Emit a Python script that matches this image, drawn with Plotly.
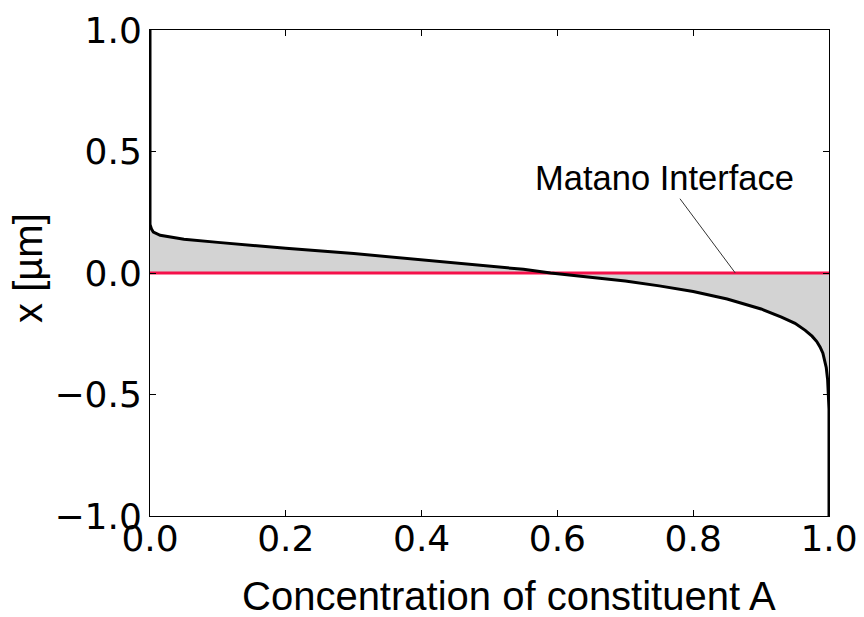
import plotly.graph_objects as go

# Data
conc = [0.0, 0.0, 0.002, 0.005, 0.015, 0.03, 0.05, 0.1, 0.15, 0.2, 0.3, 0.4, 0.45, 0.5, 0.55,
        0.59, 0.65, 0.7, 0.75, 0.8, 0.85, 0.9, 0.93, 0.95, 0.965, 0.975, 0.982, 0.987, 0.991,
        0.994, 0.996, 0.998, 0.999, 1.0, 1.0]
xpos = [1.0, 0.2, 0.182, 0.168, 0.155, 0.147, 0.139, 0.126, 0.113, 0.102, 0.08, 0.055, 0.042, 0.028, 0.015,
        0.0, -0.018, -0.033, -0.053, -0.076, -0.107, -0.148, -0.182, -0.207, -0.236, -0.26, -0.282, -0.305, -0.33,
        -0.36, -0.39, -0.44, -0.49, -0.56, -1.0]

matano_c = [0.0, 1.0]
matano_x = [0.0, 0.0]

xticks = [0.0, 0.2, 0.4, 0.6, 0.8, 1.0]
xticklabels = ["0.0", "0.2", "0.4", "0.6", "0.8", "1.0"]
yticks = [-1.0, -0.5, 0.0, 0.5, 1.0]
yticklabels = ["\u22121.0", "\u22120.5", "0.0", "0.5", "1.0"]

fig = go.Figure()
fig.add_trace(go.Scatter(x=conc, y=xpos, mode="lines", fill="tozeroy",
                         fillcolor="#d3d3d3", line=dict(width=0, color="rgba(0,0,0,0)"),
                         hoverinfo="skip", showlegend=False))
fig.add_trace(go.Scatter(x=matano_c, y=matano_x, mode="lines",
                         line=dict(color="#f5104a", width=3), showlegend=False))
fig.add_trace(go.Scatter(x=conc, y=xpos, mode="lines",
                         line=dict(color="black", width=3), showlegend=False))

axis_common = dict(showgrid=False, zeroline=False, showline=True, linecolor="black", linewidth=1,
                   mirror="ticks", ticks="inside", ticklen=6, tickwidth=1, tickcolor="black",
                   automargin=False,
                   tickfont=dict(family="DejaVu Sans", size=36, color="black"))

fig.update_xaxes(range=[0, 1], tickvals=xticks, ticktext=xticklabels, ticklabelstandoff=-9, **axis_common)
fig.update_yaxes(range=[-1, 1], tickvals=yticks, ticktext=yticklabels, **axis_common)

fig.add_annotation(x=0.862, y=0.0, xref="x", yref="y", ax=0.758, ay=0.39, axref="x", ayref="y",
                   text="Matano Interface", showarrow=True, arrowhead=0, arrowwidth=1,
                   arrowcolor="#333333", font=dict(family="Liberation Sans", size=34.5, color="black"))

fig.add_annotation(x=0.528, y=-0.165, xref="paper", yref="paper", text="Concentration of constituent A",
                   showarrow=False, xanchor="center", yanchor="middle",
                   font=dict(family="Liberation Sans", size=40, color="black"))
fig.add_annotation(x=-0.18, y=0.51, xref="paper", yref="paper", text="x [µm]", textangle=-90,
                   showarrow=False, xanchor="center", yanchor="middle",
                   font=dict(family="Liberation Sans", size=40, color="black"))

fig.update_layout(width=864, height=617, margin=dict(l=150, r=35, t=30, b=101),
                  plot_bgcolor="white", paper_bgcolor="white")

fig.write_html("out.html")
